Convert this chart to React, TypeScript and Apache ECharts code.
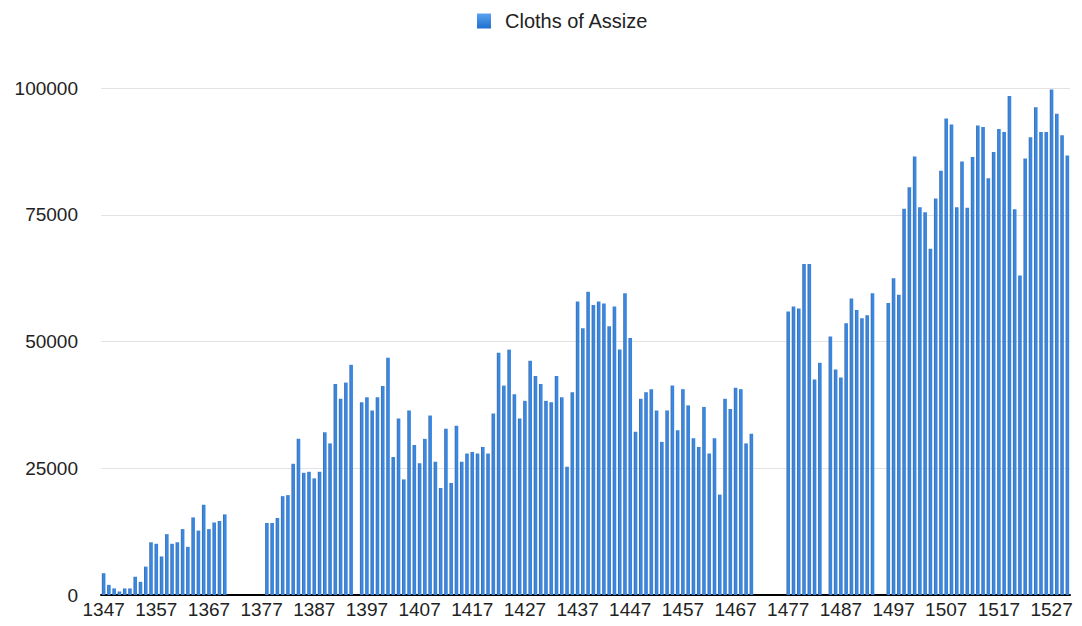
import React, { useEffect, useRef } from "react";
import * as echarts from "echarts";

const seriesName = "Cloths of Assize";
const firstYear = 1347;

// one value per year from 1347 to 1530; null = no record
const cloths: (number | null)[] = [
  // 1347-1370
  4300, 2000, 1300, 700, 1300, 1300, 3600, 2600, 5600, 10400,
  10100, 7600, 12000, 10100, 10400, 13000, 9500, 15300, 12700, 17800,
  13000, 14300, 14600, 15900,
  // 1371-1377
  null, null, null, null, null, null, null,
  // 1378-1394
  14200, 14200, 15200, 19500, 19700, 25900, 30800, 24100, 24300, 23000,
  24300, 32100, 29900, 41600, 38700, 41900, 45400,
  // 1395
  null,
  // 1396-1470
  38000, 39000, 36400, 39000, 41200, 46800, 27200, 34800, 22800, 36400,
  29600, 26000, 30800, 35400, 26300, 21100, 32800, 22100, 33400, 26300,
  27900, 28200, 27900, 29200, 27900, 35800, 47800, 41300, 48400, 39600,
  34800, 38300, 46200, 43200, 41600, 38300, 38000, 43200, 39000, 25300,
  40000, 57900, 52600, 59800, 57200, 57900, 57500, 53000, 56900, 48400,
  59500, 50700, 32200, 38700, 40000, 40600, 36400, 30200, 36400, 41300,
  32500, 40600, 37400, 30900, 29200, 37100, 27900, 30900, 19800, 38700,
  36700, 40900, 40600, 29900, 31800,
  // 1471-1476
  null, null, null, null, null, null,
  // 1477-1483
  55900, 56900, 56500, 65300, 65300, 42500, 45800,
  // 1484
  null,
  // 1485-1493
  51000, 44500, 42900, 53600, 58500, 56200, 54600, 55200, 59500,
  // 1494-1495
  null, null,
  // 1496-1530
  57600, 62500, 59200, 76200, 80400, 86500, 76500, 75500, 68300, 78200,
  83700, 94000, 92800, 76500, 85500, 76400, 86400, 92600, 92300, 82200,
  87400, 91900, 91300, 98400, 76100, 63000, 86100, 90300, 96200, 91300,
  91300, 99700, 94900, 90700, 86700,
];

const years: string[] = cloths.map((_, i) => String(firstYear + i));

const labelEvery = 10;
const yMin = 0;
const yMax = 100000;
const yStep = 25000;

export default function App() {
  const ref = useRef<HTMLDivElement>(null);

  useEffect(() => {
    if (!ref.current) return;
    const chart = echarts.init(ref.current, null, { renderer: "svg" });
    const barFill = new echarts.graphic.LinearGradient(0, 0, 1, 0, [
      { offset: 0, color: "#44689a" },
      { offset: 0.4, color: "#3f88dc" },
      { offset: 1, color: "#2b86ee" },
    ]);
    const iconFill = new echarts.graphic.LinearGradient(0, 0, 0, 1, [
      { offset: 0, color: "#5aa2ee" },
      { offset: 1, color: "#1f6fd0" },
    ]);
    chart.setOption({
      animation: false,
      backgroundColor: "#ffffff",
      textStyle: { fontFamily: "Liberation Sans, Arial, sans-serif" },
      legend: {
        data: [{ name: seriesName, itemStyle: { color: iconFill } }],
        left: 472,
        top: 6,
        itemWidth: 14,
        itemHeight: 15,
        icon: "rect",
        textStyle: {
          fontSize: 20,
          color: "#222222",
          padding: [0, 0, 0, 9],
        },
      },
      grid: {
        left: 101,
        width: 969,
        top: 88,
        bottom: 31,
        containLabel: false,
      },
      xAxis: {
        type: "category",
        data: years,
        boundaryGap: true,
        axisLine: { show: true, lineStyle: { color: "#000000", width: 2 } },
        axisTick: { show: false },
        axisLabel: {
          interval: (index: number) => index % labelEvery === 0,
          hideOverlap: false,
          fontSize: 19,
          color: "#222222",
          margin: 5,
        },
        splitLine: { show: false },
      },
      yAxis: {
        type: "value",
        min: yMin,
        max: yMax,
        interval: yStep,
        axisLine: { show: false },
        axisTick: { show: false },
        axisLabel: {
          fontSize: 19,
          color: "#222222",
          margin: 23,
          formatter: (v: number) => String(v),
        },
        splitLine: { show: true, lineStyle: { color: "#e2e2e2", width: 1 } },
      },
      series: [
        {
          name: seriesName,
          type: "bar",
          data: cloths,
          barCategoryGap: "32%",
          itemStyle: { color: barFill },
        },
      ],
    });
    return () => chart.dispose();
  }, []);

  return (
    <div
      ref={ref}
      style={{ position: "fixed", left: 0, top: 0, width: 1082, height: 626 }}
    />
  );
}
